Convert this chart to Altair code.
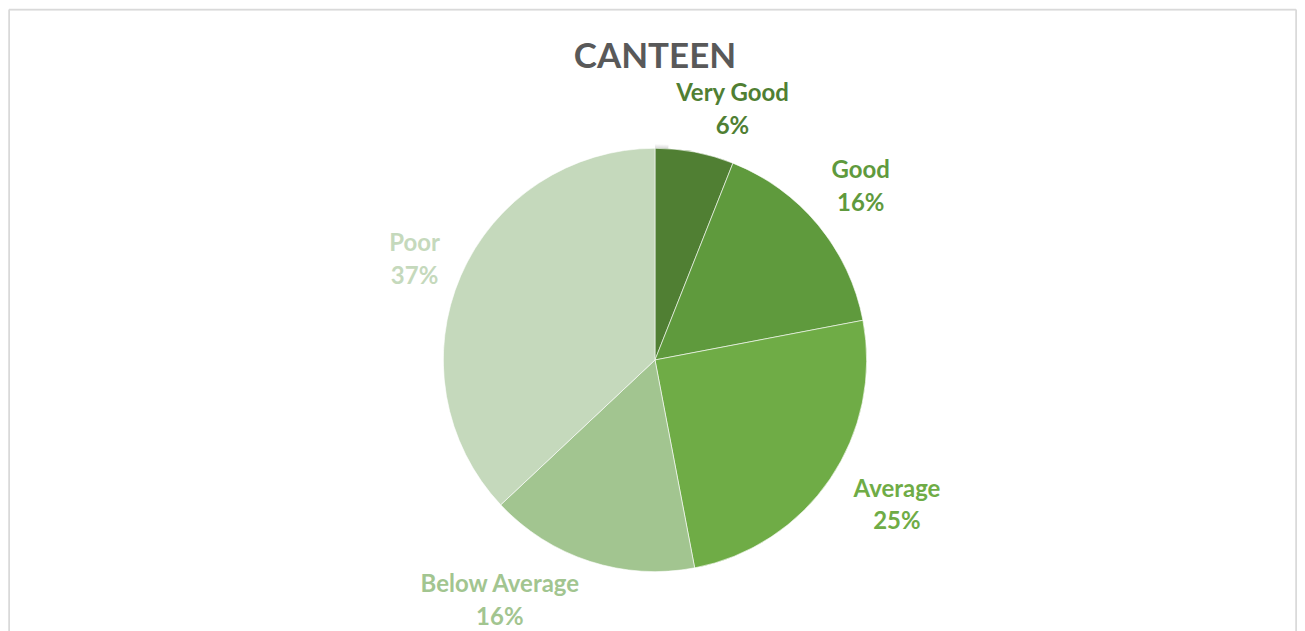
import altair as alt
import pandas as pd
import math

categories = ["Very Good", "Good", "Average", "Below Average", "Poor"]
values = [6, 16, 25, 16, 37]
colors = ["#507F33", "#5F9A3D", "#6FAC46", "#A2C590", "#C5D9BC"]
title_text = "CANTEEN"

W, H = 1289, 640
CX, CY = 647, 351
R = 212

df = pd.DataFrame({
    "category": categories,
    "value": values,
    "order": list(range(len(categories))),
})
df["label"] = [f"{c}\n{v}%" for c, v in zip(categories, values)]

color_scale = alt.Scale(domain=categories, range=colors)
total = sum(values)

# soft shadow around the pie
shadow_df = pd.DataFrame({"v": [1]})
shadow_layers = [
    alt.Chart(shadow_df).mark_arc(outerRadius=R + k, color="#000000", opacity=0.035).encode(
        theta=alt.Theta("v:Q"), x=alt.value(CX), y=alt.value(CY + 1)
    )
    for k in (1, 2, 3, 4, 5)
]

pie = alt.Chart(df).mark_arc(outerRadius=R, stroke="#FFFFFF", strokeWidth=0.6).encode(
    theta=alt.Theta("value:Q", stack=True),
    order=alt.Order("order:Q"),
    color=alt.Color("category:N", scale=color_scale, legend=None),
    x=alt.value(CX),
    y=alt.value(CY),
)

label_base = alt.Chart(df).transform_window(
    cum="sum(value)", sort=[alt.SortField("order")], frame=[None, 0]
).transform_calculate(mid="datum.cum - datum.value / 2")

# manual label nudges (like Excel's best-fit placement)
nudges = {
    "Very Good": (27, -1),
    "Good": (-2, -17),
    "Average": (19, -22),
    "Below Average": (-72, -31),
    "Poor": (7, -9),
}

label_layers = []
for cat in categories:
    dx, dy = nudges[cat]
    label_layers.append(
        label_base.transform_filter(alt.datum.category == cat).mark_text(
            radius=270, font="Lato", fontSize=24, fontWeight="bold",
            lineHeight=33, lineBreak="\n", align="center", baseline="middle",
            dx=dx, dy=dy,
        ).encode(
            theta=alt.Theta("mid:Q", stack=None,
                            scale=alt.Scale(domain=[0, total], range=[0, 2 * math.pi])),
            text="label:N",
            color=alt.Color("category:N", scale=color_scale, legend=None),
            x=alt.value(CX),
            y=alt.value(CY),
        )
    )

title = alt.Chart(pd.DataFrame({"t": [title_text]})).mark_text(
    font="Lato", fontSize=35, fontWeight="bold", color="#595959",
    align="center", baseline="alphabetic",
).encode(text="t:N", x=alt.value(CX), y=alt.value(59))

edge_style = dict(stroke="#D9D9D9", strokeWidth=1.5)
frame_df = pd.DataFrame({"a": [0]})
frame_left = alt.Chart(frame_df).mark_rule(**edge_style).encode(
    x=alt.value(0), y=alt.value(0), y2=alt.value(H))
frame_right = alt.Chart(frame_df).mark_rule(**edge_style).encode(
    x=alt.value(W), y=alt.value(0), y2=alt.value(H))
frame_top = alt.Chart(frame_df).mark_rule(**edge_style).encode(
    x=alt.value(0), x2=alt.value(W), y=alt.value(0))

chart = alt.layer(
    frame_left, frame_right, frame_top, *shadow_layers, pie, *label_layers, title
).properties(
    width=W,
    height=H,
    padding=0,
).configure_view(stroke="transparent").configure(background="#FFFFFF")

chart.save("out.html", embed_options={"renderer": "svg", "actions": False})
